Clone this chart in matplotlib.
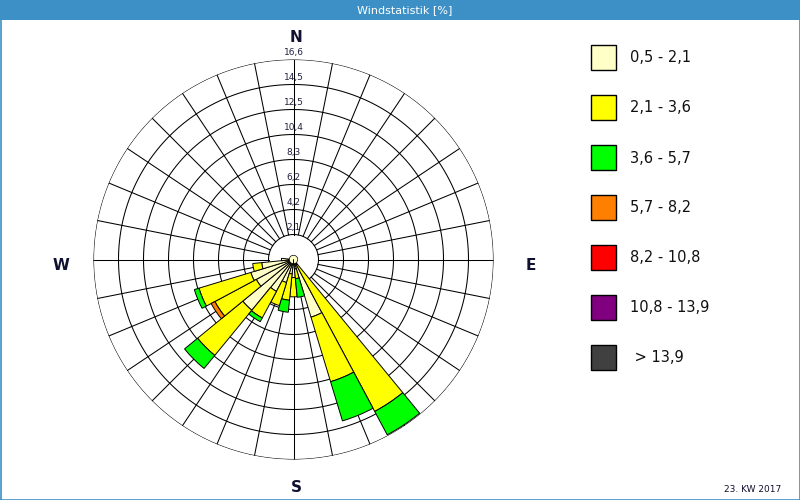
import numpy as np
import matplotlib
matplotlib.use("Agg")
import matplotlib.pyplot as plt
from matplotlib.patches import Rectangle
from matplotlib.lines import Line2D

# ---- data ----
directions_deg = [135, 146.25, 157.5, 168.75, 180, 191.25, 202.5, 213.75, 225, 236.25, 247.5, 258.75, 270]
cls_05_21 = [0.3, 0.5, 5.0, 0.8, 1.5, 1.2, 2.0, 3.0, 5.45, 3.5, 3.7, 2.65, 1.0]
cls_21_36 = [0.0, 13.8, 5.6, 0.8, 1.6, 2.2, 2.0, 2.5, 4.85, 3.9, 4.5, 0.75, 0.0]
cls_36_57 = [0.0, 2.2, 3.4, 1.55, 0.0, 1.0, 0.0, 0.35, 1.4, 0.0, 0.4, 0.0, 0.0]
cls_57_82 = [0.0, 0.0, 0.0, 0.0, 0.0, 0.0, 0.0, 0.0, 0.0, 0.35, 0.0, 0.0, 0.0]
cls_82_108 = [0.0] * 13
cls_108_139 = [0.0] * 13
cls_139 = [0.0] * 13
calm = 0.35

class_labels = ["0,5 - 2,1", "2,1 - 3,6", "3,6 - 5,7", "5,7 - 8,2", "8,2 - 10,8", "10,8 - 13,9", " > 13,9"]
class_colors = ["#FFFFC8", "#FFFF00", "#00FF00", "#FF8000", "#FF0000", "#800080", "#404040"]
ring_values = [2.1, 4.2, 6.2, 8.3, 10.4, 12.5, 14.5, 16.6]
rmax = 16.6
n_sectors = 32

fig = plt.figure(figsize=(8, 5), dpi=100)
fig.patch.set_facecolor("white")

# title bar and frame
fig.patches.append(Rectangle((0, 480 / 500), 1, 20 / 500, transform=fig.transFigure,
                             facecolor="#3D90C5", edgecolor="none", zorder=0))
fig.text(405 / 800, 490 / 500, "Windstatistik [%]", color="white", fontsize=8,
         ha="center", va="center", family=["Liberation Sans Narrow", "DejaVu Sans"])
for (x0, y0, x1, y1) in [(0.5 / 800, 0, 0.5 / 800, 1), (799.5 / 800, 0, 799.5 / 800, 1), (0, 0.5 / 500, 1, 0.5 / 500)]:
    fig.lines.append(Line2D([x0, x1], [y0, y1], transform=fig.transFigure, color="#3D90C5", lw=1.2))

cx, cy, R = 293.5, 259.5, 200.0
ax = fig.add_axes([(cx - R) / 800, (500 - cy - R) / 500, 2 * R / 800, 2 * R / 500], projection="polar")
ax.set_theta_zero_location("N")
ax.set_theta_direction(-1)
ax.set_ylim(0, rmax)
ax.grid(False)
ax.set_xticks([])
ax.set_yticks([])
ax.spines["polar"].set_visible(False)
ax.set_facecolor("none")

step = rmax / 8
th = np.linspace(0, 2 * np.pi, 400)
for k in range(1, 9):
    ax.plot(th, np.full_like(th, k * step), color="black", lw=0.75, zorder=1)
for i in range(n_sectors):
    a = np.deg2rad(i * 360 / n_sectors)
    ax.plot([a, a], [step, rmax], color="black", lw=0.75, zorder=1)

for k, v in enumerate(ring_values, start=1):
    ax.text(0, k * step + 0.55, f"{v:.1f}".replace(".", ","), ha="center", va="center",
            fontsize=6.5, color="#202040", zorder=5)

# stacked bars
theta = np.deg2rad(directions_deg)
width = np.deg2rad(360 / n_sectors)
bottom = np.zeros(len(directions_deg))
for vals, col in zip([cls_05_21, cls_21_36, cls_36_57, cls_57_82, cls_82_108, cls_108_139, cls_139], class_colors):
    vals = np.array(vals)
    mask = vals > 0
    ax.bar(theta[mask], vals[mask], width=width, bottom=bottom[mask], color=col,
           edgecolor="black", linewidth=0.7, zorder=3, align="center")
    bottom = bottom + vals
ax.bar([0], [calm], width=2 * np.pi, bottom=0, color=class_colors[0], edgecolor="black", linewidth=0.5, zorder=4)

# cardinal labels
for lab, (px, py) in {"N": (296, 37), "W": (61, 265), "E": (531, 265), "S": (296, 488)}.items():
    fig.text(px / 800, 1 - py / 500, lab, fontsize=11, fontweight="bold", ha="center", va="center", color="#101030")

# legend
for i, (lab, col) in enumerate(zip(class_labels, class_colors)):
    y = 45 + 50 * i
    fig.patches.append(Rectangle((591 / 800, 1 - (y + 25) / 500), 25 / 800, 25 / 500, transform=fig.transFigure,
                                 facecolor=col, edgecolor="black", lw=1.0))
    fig.text(630 / 800, 1 - (y + 13) / 500, lab, fontsize=10.5, ha="left", va="center", color="#101010")

fig.text(781 / 800, 1 - 489 / 500, "23. KW 2017", fontsize=6.5, ha="right", va="center", color="#101030")

fig.savefig("out.png", dpi=100)
